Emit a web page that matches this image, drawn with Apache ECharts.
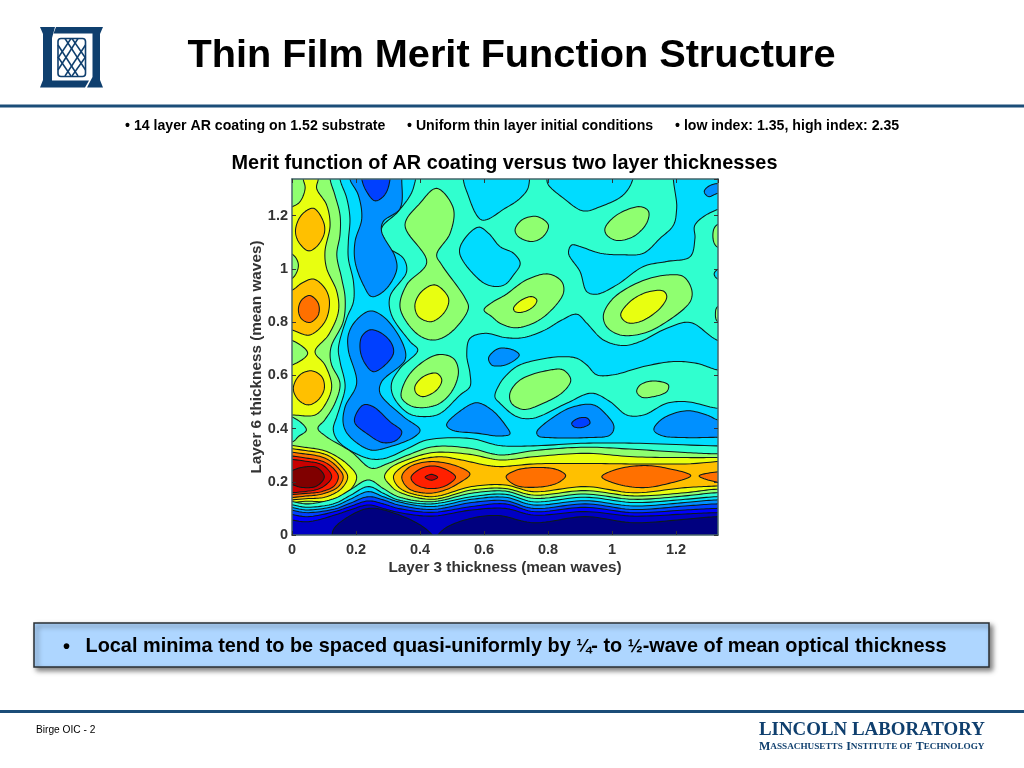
<!DOCTYPE html>
<html><head><meta charset="utf-8">
<style>html,body{margin:0;padding:0;background:#fff}#c{width:1024px;height:768px}</style>
<script src="https://cdn.jsdelivr.net/npm/echarts@6/dist/echarts.min.js"></script>
</head><body><div id="c"></div>
<script>
// axis ticks
const xTicks=[0,0.2,0.4,0.6,0.8,1,1.2];
const yTicks=[0,0.2,0.4,0.6,0.8,1,1.2];
const xMax=1.331, yMax=1.338;
// contour level colours (low -> high merit)
const levelColors=['#00007f','#0000c4','#0000ff','#0040ff','#0090ff','#00dcff','#30ffcf','#8fff70','#e8ff10','#ffc000','#ff7000','#ff2000','#c80000','#800000'];
// contours: [layer 3 thickness, layer 6 thickness]
const cyanMain=[[.150,1.40],[.150,1.338],[.171,1.266],[.181,1.190],[.176,1.103],[.176,1.040],[.192,.952],[.192,.877],[.171,.815],[.145,.702],[.150,.652],[.166,.558],[.150,.482],[.140,.445],[.129,.395],[.150,.345],[.238,.288],[.290,.288],[.363,.326],[.421,.357],[.556,.363],[.650,.336],[.754,.335],[.916,.345],[1.067,.345],[1.327,.335],[1.44,.335],[1.44,.689],[1.327,.733],[1.244,.799],[1.171,.777],[1.088,.727],[1.035,.712],[.973,.733],[.921,.796],[.890,.830],[.843,.808],[.791,.771],[.723,.742],[.666,.742],[.603,.758],[.556,.739],[.546,.677],[.556,.608],[.556,.558],[.525,.526],[.463,.457],[.421,.445],[.364,.457],[.317,.520],[.311,.570],[.338,.627],[.393,.695],[.369,.727],[.311,.827],[.306,.896],[.358,.990],[.348,1.040],[.291,1.090],[.280,1.153],[.332,1.216],[.379,1.303],[.379,1.40]];
const aquaIsland=[[.634,.520],[.650,.570],[.671,.602],[.702,.633],[.744,.652],[.838,.670],[.890,.664],[.921,.639],[.952,.602],[1.004,.602],[1.098,.633],[1.192,.652],[1.265,.645],[1.332,.620],[1.44,.614],[1.44,.476],[1.332,.476],[1.233,.501],[1.171,.495],[1.098,.451],[1.046,.451],[.994,.501],[.936,.533],[.858,.495],[.754,.439],[.702,.445],[.650,.495]];
const cyanA=[[.535,1.40],[.535,1.338],[.546,1.291],[.593,1.184],[.666,1.228],[.713,1.266],[.739,1.310],[.728,1.40]];
const cyanB=[[.796,1.40],[.796,1.338],[.801,1.316],[.848,1.266],[.910,1.218],[.963,1.234],[1.035,1.278],[1.065,1.338],[1.065,1.40]];
const cyanC=[[1.202,1.40],[1.202,1.228],[1.192,1.165],[1.150,1.115],[1.098,1.059],[1.035,1.053],[.963,1.059],[.900,1.084],[.874,1.090],[.864,1.059],[.900,.990],[.921,.915],[.952,.905],[1.015,.940],[1.098,1.009],[1.171,1.028],[1.244,1.046],[1.259,1.115],[1.259,1.165],[1.327,1.222],[1.44,1.234],[1.44,1.40]];
const cyanD=[[.582,1.157],[.530,1.096],[.525,1.053],[.593,.952],[.634,.934],[.666,.942],[.692,.977],[.713,1.021],[.692,1.059],[.650,1.084],[.614,1.134]];
const cyanE=[[1.44,1.002],[1.332,.999],[1.319,.981],[1.332,.961],[1.44,.959]];
const blueUpper=[[.181,1.40],[.181,1.338],[.207,1.278],[.218,1.190],[.197,1.103],[.197,1.028],[.223,.940],[.249,.896],[.291,.921],[.327,.996],[.322,1.046],[.280,1.140],[.285,1.178],[.338,1.228],[.343,1.338],[.343,1.40]];
const blueLower=[[.244,.842],[.291,.815],[.348,.714],[.353,.658],[.280,.576],[.275,.533],[.348,.445],[.400,.395],[.384,.370],[.306,.332],[.244,.320],[.176,.376],[.160,.420],[.166,.482],[.202,.570],[.176,.695],[.176,.752],[.197,.802]];
const blueP3=[[.483,.414],[.530,.470],[.577,.497],[.624,.470],[.666,.414],[.681,.380],[.650,.372],[.582,.382],[.499,.395]];
const blueP4=[[.765,.388],[.827,.451],[.879,.482],[.942,.489],[.983,.451],[1.006,.407],[.994,.376],[.921,.366],[.806,.366],[.770,.372]];
const blueP5=[[1.131,.401],[1.160,.439],[1.233,.467],[1.296,.451],[1.332,.432],[1.44,.414],[1.44,.363],[1.332,.367],[1.233,.366],[1.160,.372],[1.134,.388]];
const blueP6=[[1.288,1.291],[1.301,1.310],[1.332,1.322],[1.44,1.328],[1.44,1.278],[1.332,1.284],[1.301,1.272]];
const blueP7=[[.614,.664],[.629,.689],[.650,.702],[.692,.695],[.710,.677],[.697,.658],[.666,.639],[.645,.635],[.624,.639]];
const deepTop=[[.218,1.40],[.218,1.338],[.233,1.291],[.259,1.256],[.285,1.272],[.303,1.316],[.301,1.40]];
const deepMid=[[.213,.695],[.228,.645],[.254,.614],[.291,.639],[.317,.683],[.311,.720],[.280,.758],[.244,.771],[.218,.746]];
const deepLow=[[.197,.445],[.223,.489],[.254,.482],[.306,.426],[.343,.388],[.327,.357],[.285,.347],[.233,.382],[.197,.420]];
const deepSmall=[[.874,.420],[.895,.439],[.923,.439],[.931,.420],[.905,.404],[.881,.407]];
const greenH1=[[.452,1.303],[.504,1.228],[.494,1.134],[.452,1.053],[.468,1.015],[.541,.890],[.551,.852],[.499,.764],[.447,.733],[.395,.752],[.338,.852],[.358,.940],[.421,1.025],[.353,1.165],[.400,1.247]];
const greenH2=[[.343,.545],[.374,.614],[.452,.677],[.504,.664],[.520,.614],[.499,.539],[.452,.489],[.379,.482],[.343,.514]];
const greenH3=[[.697,1.147],[.718,1.184],[.765,1.197],[.801,1.165],[.785,1.122],[.749,1.103],[.707,1.122]];
const greenH4=[[.978,1.153],[1.015,1.203],[1.088,1.234],[1.114,1.216],[1.108,1.172],[1.067,1.122],[1.015,1.107],[.983,1.128]];
const greenH5=[[.600,.846],[.629,.877],[.666,.902],[.733,.959],[.801,.981],[.843,.952],[.848,.909],[.806,.840],[.754,.796],[.697,.779],[.650,.796],[.624,.821]];
const greenH6=[[.973,.827],[1.004,.890],[1.088,.952],[1.171,.977],[1.223,.971],[1.249,.921],[1.244,.877],[1.171,.802],[1.098,.758],[1.025,.752],[.983,.783]];
const greenH7=[[.681,.533],[.713,.583],[.806,.620],[.848,.620],[.871,.583],[.848,.539],[.785,.495],[.723,.472],[.686,.495]];
const greenH8=[[1.077,.539],[1.088,.564],[1.129,.579],[1.176,.564],[1.171,.539],[1.129,.520],[1.093,.518]];
const greenH9=[[1.44,1.178],[1.327,1.165],[1.315,1.128],[1.327,1.084],[1.44,1.071]];
const greenH10=[[1.44,.865],[1.330,.858],[1.323,.833],[1.330,.802],[1.44,.796]];
const yellowA=[[.384,.865],[.405,.915],[.447,.940],[.489,.890],[.478,.840],[.436,.802],[.395,.821]];
const yellowB=[[.384,.558],[.410,.595],[.452,.608],[.468,.583],[.452,.545],[.410,.520],[.388,.533]];
const yellowC=[[.692,.852],[.713,.880],[.749,.896],[.765,.883],[.754,.858],[.718,.837],[.697,.840]];
const yellowD=[[1.027,.827],[1.056,.877],[1.108,.912],[1.160,.917],[1.171,.896],[1.150,.852],[1.088,.802],[1.046,.799]];
const greenMain=[[.119,1.40],[.119,1.338],[.134,1.278],[.150,1.203],[.150,1.128],[.140,1.053],[.155,.965],[.166,.890],[.160,.802],[.124,.714],[.119,.677],[.124,.639],[.150,.570],[.134,.495],[.102,.432],[.081,.401],[.107,.370],[.185,.313],[.248,.251],[.300,.269],[.363,.301],[.442,.332],[.556,.326],[.650,.301],[.754,.317],[.916,.330],[1.067,.322],[1.228,.310],[1.327,.305],[1.44,.305],[1.44,-.1],[-.06,-.1],[-.06,1.40]];
const yellowColumn=[[.082,1.40],[.082,1.338],[.077,1.303],[.108,1.241],[.119,1.165],[.103,1.065],[.108,1.003],[.140,.915],[.145,.840],[.114,.752],[.072,.689],[.103,.639],[.124,.558],[.103,.489],[.072,.451],[.001,.451],[-.06,.451],[-.06,1.40]];
const amberUpper=[[.011,1.147],[.030,1.203],[.067,1.228],[.098,1.178],[.101,1.134],[.077,1.084],[.051,1.068],[.020,1.103]];
const amberMid=[[-.06,.902],[.001,.921],[.030,.946],[.067,.962],[.103,.927],[.117,.877],[.103,.802],[.056,.752],[.015,.764],[-.06,.815]];
const amberLow=[[.004,.551],[.025,.602],[.061,.617],[.093,.595],[.101,.551],[.082,.508],[.051,.489],[.020,.508]];
const orangeMid=[[.020,.846],[.030,.883],[.056,.900],[.082,.871],[.082,.827],[.056,.799],[.030,.812]];
const greenCorner=[[-.06,1.40],[.03,1.40],[.035,1.338],[.041,1.303],[.025,1.253],[.001,1.234],[-.06,1.215]];
const greenLens=[[-.06,1.06],[.001,1.055],[.020,1.015],[.001,.965],[-.06,.955]];
const greenWedge=[[-.06,.74],[.001,.731],[.049,.683],[.001,.639],[-.06,.63]];
const aquaWedge=[[-.06,.455],[.008,.439],[.045,.395],[.020,.370],[.003,.351],[-.06,.34]];
const peakL8=[[-.06,.326],[.051,.328],[.114,.311],[.176,.263],[.202,.219],[.181,.169],[.114,.128],[.051,.127],[-.06,.132]];
const peakL9=[[-.06,.314],[.051,.316],[.114,.298],[.155,.257],[.174,.219],[.155,.175],[.108,.144],[.051,.137],[-.06,.145]];
const peakL10=[[-.06,.30],[.051,.303],[.108,.286],[.145,.251],[.160,.219],[.145,.182],[.103,.157],[.051,.147],[-.06,.153]];
const peakL11=[[-.06,.288],[.051,.288],[.103,.273],[.134,.244],[.145,.219],[.132,.185],[.098,.165],[.051,.157],[-.06,.165]];
const peakL12=[[-.06,.275],[.051,.276],[.098,.261],[.124,.219],[.098,.182],[.051,.165],[-.06,.172]];
const peakL13=[[.004,.244],[.030,.254],[.077,.254],[.101,.219],[.077,.184],[.030,.179],[.004,.188],[-.06,.215]];
const bandL8=[[.289,.219],[.306,.251],[.358,.282],[.442,.310],[.556,.303],[.650,.282],[.754,.294],[.916,.307],[1.067,.294],[1.228,.291],[1.327,.291],[1.44,.291],[1.44,.169],[1.327,.172],[1.228,.159],[1.067,.147],[.916,.167],[.754,.150],[.666,.175],[.561,.169],[.436,.134],[.332,.163],[.306,.188]];
const bandL9=[[.317,.219],[.338,.251],[.395,.282],[.463,.294],[.530,.282],[.603,.263],[.650,.257],[.754,.267],[.916,.269],[1.067,.267],[1.228,.267],[1.44,.267],[1.44,.188],[1.327,.184],[1.228,.178],[1.067,.159],[.916,.182],[.754,.163],[.666,.188],[.561,.182],[.436,.144],[.338,.175]];
const hillL10=[[.343,.219],[.369,.257],[.436,.276],[.520,.257],[.556,.229],[.520,.194],[.478,.169],[.426,.157],[.364,.175]];
const hillL11=[[.372,.217],[.405,.251],[.447,.259],[.494,.238],[.511,.217],[.478,.184],[.426,.175],[.384,.192]];
const hillL12=[[.416,.217],[.436,.228],[.455,.217],[.436,.206]];
const lensB=[[.669,.219],[.702,.244],[.775,.254],[.832,.244],[.855,.223],[.827,.194],[.754,.179],[.697,.188]];
const lensC=[[.968,.219],[1.015,.247],[1.098,.261],[1.171,.251],[1.246,.223],[1.171,.192],[1.098,.178],[1.015,.192]];
const lensD=[[1.272,.222],[1.332,.238],[1.44,.244],[1.44,.194],[1.332,.198]];
// lower bands: thickness along layer 3, and the layer 6 value of each band's upper edge
const bandX=[-.06,.051,.134,.181,.239,.285,.332,.436,.561,.666,.754,.916,1.067,1.228,1.327,1.44];
const lowL6=[.125,.117,.138,.169,.207,.175,.144,.125,.157,.165,.138,.154,.134,.147,.159,.159];
const lowL5=[.113,.104,.119,.148,.182,.157,.132,.117,.144,.153,.125,.142,.122,.134,.144,.144];
const lowL4=[.103,.094,.109,.134,.163,.144,.125,.107,.134,.142,.113,.129,.109,.122,.132,.132];
const lowL3=[.091,.084,.098,.119,.144,.132,.113,.096,.122,.129,.100,.117,.096,.109,.117,.117];
const lowL2=[.075,.069,.088,.107,.128,.117,.100,.085,.107,.117,.088,.104,.084,.094,.100,.100];
const lowL1=[.054,.050,.075,.094,.113,.100,.085,.071,.094,.100,.075,.088,.071,.079,.084,.084];
const navyLobe1=[[.125,-.1],[.125,-.02],[.129,.019],[.160,.056],[.239,.100],[.322,.081],[.416,.025],[.447,-.02],[.447,-.1]];
const navyLobe2=[[.447,-.1],[.447,-.02],[.478,.025],[.561,.063],[.645,.073],[.754,.046],[.916,.069],[1.067,.046],[1.228,.059],[1.327,.069],[1.44,.069],[1.44,-.1]];

const band=ys=>bandX.map((x,i)=>[x,ys[i]]).concat([[1.44,-.1],[-.06,-.1]]);
// painting order: [level, contour]
const contours=[
 [5,cyanMain],[6,aquaIsland],[5,cyanA],[5,cyanB],[5,cyanC],[5,cyanD],[5,cyanE],
 [4,blueUpper],[4,blueLower],[4,blueP3],[4,blueP4],[4,blueP5],[4,blueP6],[4,blueP7],
 [3,deepTop],[3,deepMid],[3,deepLow],[3,deepSmall],
 [7,greenH1],[7,greenH2],[7,greenH3],[7,greenH4],[7,greenH5],[7,greenH6],[7,greenH7],[7,greenH8],[7,greenH9],[7,greenH10],
 [8,yellowA],[8,yellowB],[8,yellowC],[8,yellowD],
 [7,greenMain],[8,yellowColumn],[9,amberUpper],[9,amberMid],[9,amberLow],[10,orangeMid],
 [7,greenCorner],[7,greenLens],[7,greenWedge],[6,aquaWedge],
 [8,peakL8],[9,peakL9],[10,peakL10],[11,peakL11],[12,peakL12],[13,peakL13],
 [8,bandL8],[9,bandL9],[10,hillL10],[11,hillL11],[12,hillL12],[10,lensB],[10,lensC],[10,lensD],
 [6,band(lowL6)],[5,band(lowL5)],[4,band(lowL4)],[3,band(lowL3)],[2,band(lowL2)],[1,band(lowL1)],
 [0,navyLobe1],[0,navyLobe2]
];

// draws a closed curve through the contour's pixel positions (centripetal spline)
function curve(pts){
 const n=pts.length,out=[],lerp=(a,b,ta,tb,t)=>{const d=tb-ta||1e-6,u=(t-ta)/d;return [a[0]+(b[0]-a[0])*u,a[1]+(b[1]-a[1])*u];};
 const step=(a,b)=>Math.max(Math.sqrt(Math.hypot(b[0]-a[0],b[1]-a[1])),1e-3);
 for(let i=0;i<n;i++){
  const p0=pts[(i-1+n)%n],p1=pts[i],p2=pts[(i+1)%n],p3=pts[(i+2)%n];
  const t0=0,t1=t0+step(p0,p1),t2=t1+step(p1,p2),t3=t2+step(p2,p3);
  for(let k=0;k<12;k++){
   const t=t1+(t2-t1)*k/12;
   const a1=lerp(p0,p1,t0,t1,t),a2=lerp(p1,p2,t1,t2,t),a3=lerp(p2,p3,t2,t3,t);
   const b1=lerp(a1,a2,t0,t2,t),b2=lerp(a2,a3,t1,t3,t);
   out.push(lerp(b1,b2,t1,t2,t));
  }
 }
 return out;
}

const sans='"Liberation Sans", Arial, sans-serif', serif='"Liberation Serif", serif';
const navy='#0f3f6e';
const txt=(text,x,y,size,opt={})=>({type:'text',z:20,style:{text,x,y,font:`${opt.weight||'bold'} ${size}px ${opt.family||sans}`,fill:opt.fill||'#000',textAlign:opt.align||'left',textVerticalAlign:'middle'}});
const poly=(points,fill)=>({type:'polygon',z:20,shape:{points},style:{fill}});
const ln=(x1,y1,x2,y2,c,w)=>({type:'line',z:20,shape:{x1,y1,x2,y2},style:{stroke:c,lineWidth:w}});
const graphic=[
 ln(0,106,1024,106,'#1b4d78',3), ln(0,711.5,1024,711.5,'#1b4d78',3),
 poly([[40,27],[55,27],[52,38],[52,80.5],[89,80.5],[85,87.5],[40,87.5],[43,80],[43,34]],navy),
 poly([[56,27],[103,27],[100,34],[100,80],[103,87.5],[87,87.5],[92.5,77],[92.5,33.5],[53.5,33.5]],navy),
 {type:'rect',z:20,shape:{x:58,y:38.5,width:27.5,height:38,r:3},style:{fill:'none',stroke:navy,lineWidth:1.6}},
 ln(58,45,78,76,navy,1.5),ln(58,57,71,76,navy,1.5),ln(65,38.5,85.5,70,navy,1.5),ln(72,38.5,85.5,58,navy,1.5),
 ln(85.5,45,65,76,navy,1.5),ln(85.5,57,72,76,navy,1.5),ln(78,38.5,58,70,navy,1.5),ln(71,38.5,58,58,navy,1.5),
 txt('Thin Film Merit Function Structure',511.5,56,39.7,{align:'center'}),
 txt('• 14 layer AR coating on 1.52 substrate',125,126,14.15),
 txt('• Uniform thin layer initial conditions',407,126,14.15),
 txt('• low index: 1.35, high index: 2.35',675,126,14.15),
 txt('Merit function of AR coating versus two layer thicknesses',504.5,163.5,19.85,{align:'center'}),
 {type:'rect',z:19,shape:{x:34,y:623,width:955,height:44},style:{fill:'#aed6ff',stroke:'#2a2f33',lineWidth:1.5,shadowBlur:5,shadowOffsetX:3,shadowOffsetY:3,shadowColor:'rgba(0,0,0,0.5)'}},
 txt('•',63,647,20),
 {type:'text',z:20,style:{x:85.5,y:647,textVerticalAlign:'middle',fill:'#000',
   text:'{n|Local minima tend to be spaced quasi-uniformly by }{f|¼}{n|- to }{f|½}{n|-wave of mean optical thickness}',
   rich:{n:{font:`bold 19.9px ${sans}`,fill:'#000'},f:{font:`bold 18px ${sans}`,fill:'#000'}}}},
 txt('Birge OIC - 2',36,730,10.2,{weight:'normal'}),
 txt('LINCOLN LABORATORY',759,730.5,18.9,{family:serif,fill:navy}),
 {type:'text',z:20,style:{x:759,y:747,textVerticalAlign:'middle',fill:navy,text:'{a|M}{b|ASSACHUSETTS} {a|I}{b|NSTITUTE OF} {a|T}{b|ECHNOLOGY}',rich:{a:{font:`bold 12px ${serif}`,fill:navy},b:{font:`bold 9.2px ${serif}`,fill:navy}}}}
];
const axisCommon={min:0,interval:0.2,axisLine:{onZero:false,lineStyle:{color:'#46646a',width:1.5}},splitLine:{show:false},z:5};
const labelStyle={fontFamily:sans,fontWeight:'bold',fontSize:14.5,color:'#333',showMaxLabel:false};
const tickStyle={inside:true,length:4,lineStyle:{color:'#333',width:1}};
const chart=echarts.init(document.getElementById('c'));
chart.setOption({
 animation:false,backgroundColor:'#fff',
 graphic,
 grid:{left:292,top:179,width:426,height:356,show:true,backgroundColor:levelColors[6],borderWidth:0},
 xAxis:[
  {...axisCommon,type:'value',max:xMax,position:'bottom',name:'Layer 3 thickness (mean waves)',nameLocation:'middle',nameGap:25,
   nameTextStyle:{fontFamily:sans,fontWeight:'bold',fontSize:15.3,color:'#333'},
   axisTick:tickStyle,axisLabel:{...labelStyle,margin:7,formatter:v=>xTicks.includes(+v.toFixed(1))?String(+v.toFixed(1)):''}},
  {...axisCommon,type:'value',max:xMax,position:'top',axisTick:tickStyle,axisLabel:{show:false}}
 ],
 yAxis:[
  {...axisCommon,type:'value',max:yMax,position:'left',name:'Layer 6 thickness (mean waves)',nameLocation:'middle',nameGap:26,nameRotate:90,
   nameTextStyle:{fontFamily:sans,fontWeight:'bold',fontSize:15.3,color:'#333'},
   axisTick:tickStyle,axisLabel:{...labelStyle,margin:4,formatter:v=>yTicks.includes(+v.toFixed(1))?String(+v.toFixed(1)):''}},
  {...axisCommon,type:'value',max:yMax,position:'right',axisTick:tickStyle,axisLabel:{show:false}}
 ],
 series:[{
  type:'custom',clip:true,coordinateSystem:'cartesian2d',xAxisIndex:0,yAxisIndex:0,silent:true,z:2,
  data:contours.map((c,i)=>[i,c[0]]),
  encode:{x:0,y:1},
  renderItem:(params,api)=>{
   const c=contours[params.dataIndex];
   return {type:'polygon',shape:{points:curve(c[1].map(p=>api.coord(p)))},
    style:{fill:levelColors[c[0]],stroke:'#0c1a1a',lineWidth:1.05,lineJoin:'round'}};
  }
 }]
});
</script></body></html>
